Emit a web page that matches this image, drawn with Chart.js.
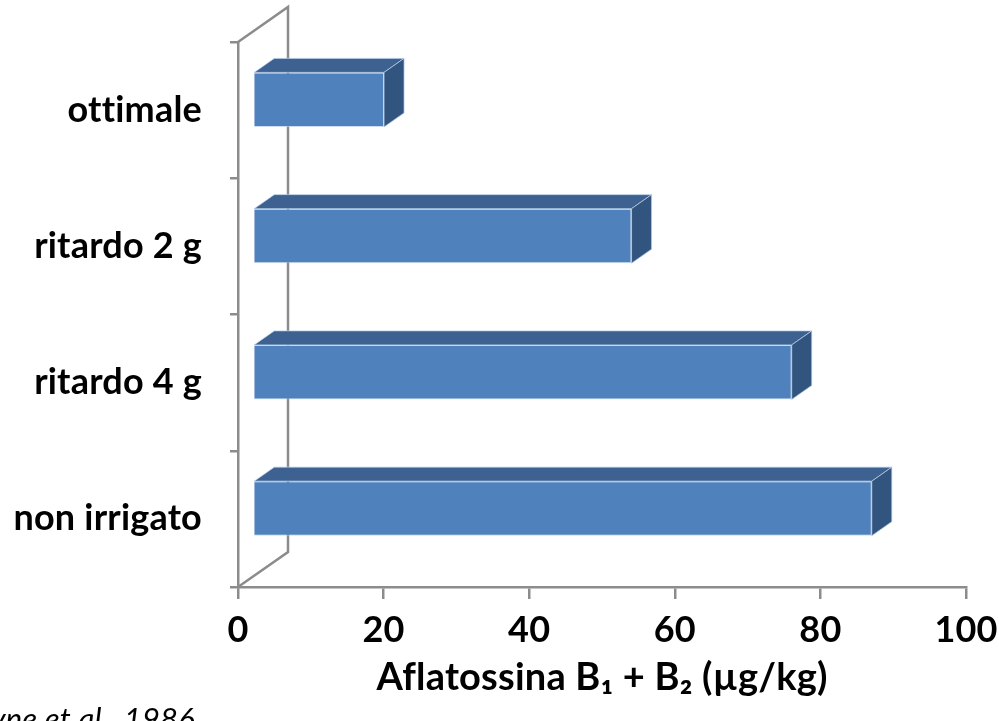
<!DOCTYPE html>
<html><head><meta charset="utf-8">
<script src="https://cdn.jsdelivr.net/npm/chart.js@4"></script>
<style>html,body{margin:0;padding:0;background:#fff;} canvas{display:block}</style>
</head><body>
<canvas id="c" width="999" height="721"></canvas>
<script>
const categories = ['ottimale', 'ritardo 2 g', 'ritardo 4 g', 'non irrigato'];
const values = [18, 52, 74, 85];
const xTicks = [0, 20, 40, 60, 80, 100];
const axisTitle = 'Aflatossina B\u2081 + B\u2082 (\u00b5g/kg)';
const sourceNote = 'Payne et al., 1986';

const FONT = 'Lato';
const AXIS = '#8c8c8c';
const DEPTH_X = 50, DEPTH_Y = 35;
const BAR_FRONT = 0.3, BAR_BACK = 0.7;

const threeD = {
  id: 'threeD',
  beforeDraw(chart) {
    // avoid optional ligatures (e.g. "tt") like the original rendering
    if ('letterSpacing' in chart.ctx) chart.ctx.letterSpacing = '0.2px';
  },
  beforeDatasetsDraw(chart) {
    const {ctx, chartArea: a} = chart;
    ctx.save();
    ctx.strokeStyle = AXIS; ctx.lineWidth = 2.5;
    ctx.beginPath();
    ctx.moveTo(a.left, a.top); ctx.lineTo(a.left + DEPTH_X, a.top - DEPTH_Y);
    ctx.lineTo(a.left + DEPTH_X, a.bottom - DEPTH_Y); ctx.lineTo(a.left, a.bottom);
    ctx.stroke();
    ctx.restore();
    ctx.save();
    ctx.translate(DEPTH_X * BAR_FRONT, -DEPTH_Y * BAR_FRONT);
  },
  afterDatasetsDraw(chart) {
    const {ctx} = chart;
    const dx = DEPTH_X * (BAR_BACK - BAR_FRONT), dy = -DEPTH_Y * (BAR_BACK - BAR_FRONT);
    chart.getDatasetMeta(0).data.forEach(el => {
      const {x, y, base, height} = el.getProps(['x', 'y', 'base', 'height'], true);
      const top = y - height / 2, bot = y + height / 2;
      ctx.lineWidth = 1;
      ctx.strokeStyle = 'rgba(185,205,232,0.7)';
      ctx.beginPath();
      ctx.moveTo(base, top); ctx.lineTo(base + dx, top + dy); ctx.lineTo(x + dx, top + dy); ctx.lineTo(x, top); ctx.closePath();
      ctx.fillStyle = '#3d6291'; ctx.fill(); ctx.stroke();
      ctx.beginPath();
      ctx.moveTo(x, top); ctx.lineTo(x + dx, top + dy); ctx.lineTo(x + dx, bot + dy); ctx.lineTo(x, bot); ctx.closePath();
      ctx.fillStyle = '#32557f'; ctx.fill(); ctx.stroke();
    });
    ctx.restore();
  },
  afterDraw(chart) {
    const {ctx} = chart;
    ctx.save();
    ctx.font = 'italic 31px ' + FONT;
    ctx.fillStyle = '#000';
    ctx.textAlign = 'right';
    ctx.textBaseline = 'alphabetic';
    ctx.fillText(sourceNote, 195, 730);
    ctx.restore();
  }
};

new Chart(document.getElementById('c'), {
  type: 'bar',
  data: {
    labels: categories,
    datasets: [{
      data: values,
      backgroundColor: '#4f81bd',
      borderColor: 'rgba(185,205,232,0.7)',
      borderWidth: 1,
      categoryPercentage: 1,
      barPercentage: 0.4
    }]
  },
  options: {
    indexAxis: 'y',
    responsive: false,
    animation: false,
    layout: {padding: {top: 42, right: 33, left: 0, bottom: 0}},
    plugins: {legend: {display: false}, tooltip: {enabled: false}},
    scales: {
      x: {
        min: 0, max: 100,
        afterBuildTicks: s => { s.ticks = xTicks.map(v => ({value: v})); },
        border: {color: AXIS, width: 2.5},
        grid: {drawOnChartArea: false, color: AXIS, lineWidth: 2.5, tickLength: 12},
        ticks: {font: {family: FONT, size: 36, weight: 'bold'}, color: '#000', padding: 10},
        title: {display: true, text: axisTitle, color: '#000',
                font: {family: FONT, size: 38, weight: 'bold'}, padding: {top: 0, bottom: 20}},
        afterFit: s => { s.height = 134; s.paddingLeft = 0; s.paddingRight = 0; }
      },
      y: {
        border: {color: AXIS, width: 2.5},
        grid: {drawOnChartArea: false, color: AXIS, lineWidth: 2.5, tickLength: 8, offset: true},
        ticks: {font: {family: FONT, size: 36, weight: 'bold'}, color: '#000', padding: 28},
        afterFit: s => { s.width = 238; s.paddingTop = 0; s.paddingBottom = 0; }
      }
    }
  },
  plugins: [threeD]
});
</script>
</body></html>
